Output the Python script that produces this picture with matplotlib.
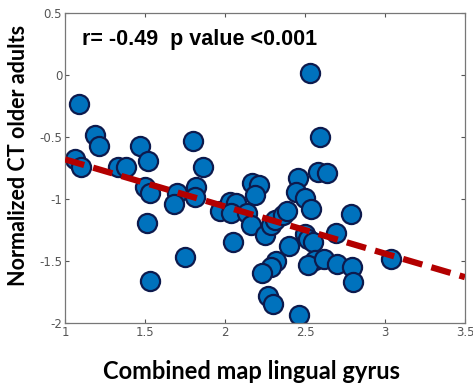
import numpy as np
import matplotlib.pyplot as plt

# combined map value (x) vs normalized cortical thickness (y), one per subject
lingual = [1.09, 1.19, 1.21, 1.06, 1.10, 1.33, 1.38, 1.47, 1.52, 1.80,
           1.86, 1.50, 1.53, 1.70, 1.68, 1.82, 1.81, 1.51, 1.75, 1.53,
           1.97, 2.03, 2.07, 2.04, 2.05, 2.17, 2.21, 2.19, 2.14, 2.16,
           2.25, 2.29, 2.31, 2.36, 2.39, 2.40, 2.32, 2.29, 2.23, 2.27,
           2.30, 2.465, 2.53, 2.595, 2.58, 2.64, 2.455, 2.445, 2.50, 2.54,
           2.50, 2.52, 2.55, 2.56, 2.52, 2.62, 2.695, 2.79, 2.70, 2.795,
           2.80, 3.04]
ct = [-0.23, -0.48, -0.57, -0.68, -0.74, -0.74, -0.74, -0.57, -0.69, -0.53,
      -0.745, -0.90, -0.95, -0.95, -1.04, -0.90, -0.98, -1.19, -1.465, -1.66,
      -1.10, -1.02, -1.035, -1.115, -1.345, -0.87, -0.89, -0.97, -1.115, -1.21,
      -1.29, -1.21, -1.17, -1.13, -1.10, -1.38, -1.50, -1.55, -1.60, -1.78,
      -1.85, -1.935, 0.02, -0.50, -0.78, -0.79, -0.83, -0.94, -0.99, -1.08,
      -1.28, -1.32, -1.345, -1.49, -1.53, -1.48, -1.27, -1.12, -1.52, -1.55,
      -1.67, -1.485]

# least squares line
fit_slope = -0.38
fit_intercept = -0.30

fig = plt.figure(figsize=(4.73, 3.85), dpi=100)
ax = fig.add_axes([0.1374, 0.161, 0.8456, 0.805])

ax.scatter(lingual, ct, s=190, c='#0072BD', edgecolors='#0d1a4d',
           linewidths=1.6, zorder=2)

xl = np.array([1.0, 3.5])
ax.plot(xl, fit_intercept + fit_slope * xl, color='#b30000', lw=4.5,
        dashes=(3.2, 1.5), zorder=3, solid_capstyle='butt')

ax.set_xlim(1, 3.5)
ax.set_ylim(-2, 0.5)
ax.set_xticks([1, 1.5, 2, 2.5, 3, 3.5])
ax.set_xticklabels(['1', '1.5', '2', '2.5', '3', '3.5'])
ax.set_yticks([-2, -1.5, -1, -0.5, 0, 0.5])
ax.set_yticklabels(['-2', '-1.5', '-1', '-0.5', '0', '0.5'])
ax.tick_params(direction='in', top=True, right=True, length=3,
               width=0.8, colors='#555555', labelsize=8.5, pad=2)
for sp in ax.spines.values():
    sp.set_color('#777777')
    sp.set_linewidth(0.9)

ax.set_xlabel('Combined map lingual gyrus', fontsize=17, fontweight='bold',
              family='Lato')
ax.set_ylabel('Normalized CT older adults', fontsize=15.5, fontweight='bold',
              family='Lato')
ax.xaxis.set_label_coords(0.467, -0.12)
ax.yaxis.set_label_coords(-0.09, 0.54)

ax.text(0.042, 0.916, 'r= -0.49  p value <0.001', transform=ax.transAxes,
        fontsize=15.5, fontweight='bold', family='Liberation Sans',
        va='center', ha='left')

fig.savefig('out.png', dpi=100)
